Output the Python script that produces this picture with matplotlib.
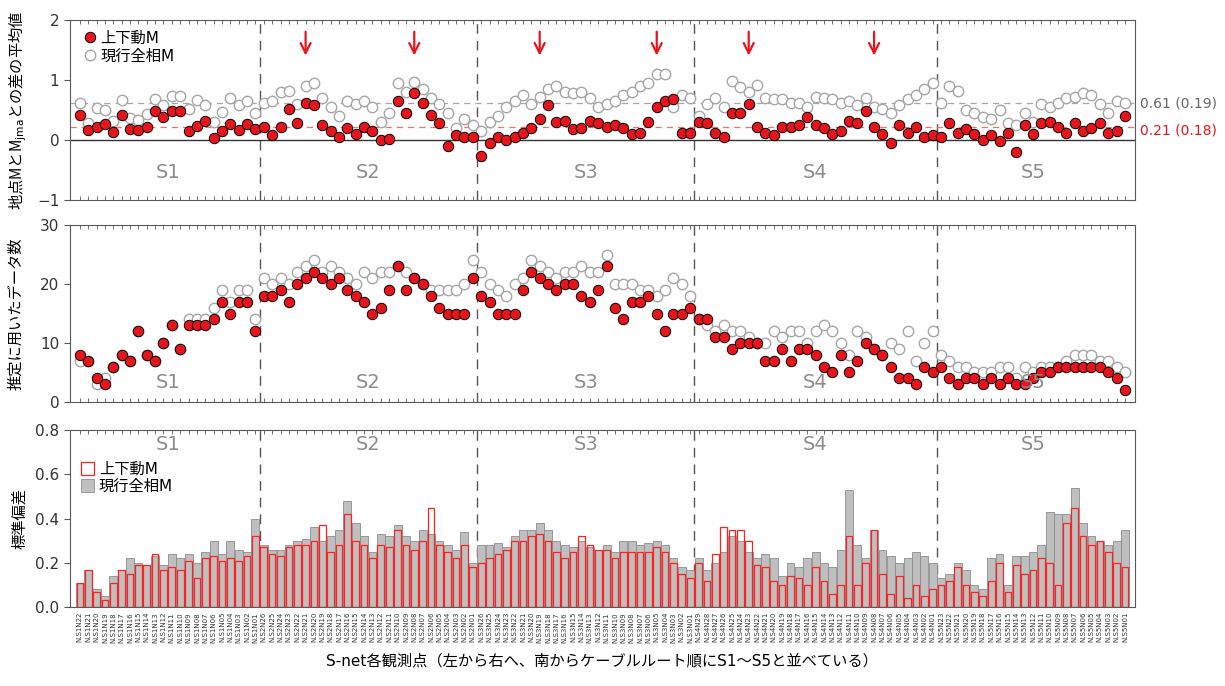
import matplotlib.pyplot as plt
import numpy as np

plt.rcParams['font.family'] = ['DejaVu Sans', 'Noto Sans CJK JP']

# station groups along the cable routes, south to north
segments = ['S1', 'S2', 'S3', 'S4', 'S5']
seg_sizes = [22, 26, 26, 29, 23]
stations = []
for seg, n in zip(segments, seg_sizes):
    stations += [f'N.{seg}N{i:02d}' for i in range(n, 0, -1)]

# mean of (station M - Mjma)
diff_vert = [0.42, 0.17, 0.21, 0.27, 0.14, 0.42, 0.18, 0.16, 0.22, 0.49, 0.39, 0.49, 0.48, 0.15, 0.23, 0.31, 0.03, 0.15, 0.26, 0.17, 0.26, 0.18,
             0.22, 0.08, 0.22, 0.51, 0.28, 0.62, 0.58, 0.25, 0.15, 0.05, 0.20, 0.10, 0.22, 0.15, 0.00, 0.02, 0.65, 0.45, 0.78, 0.62, 0.42, 0.28, -0.10, 0.08, 0.05, 0.05,
             -0.27, -0.05, 0.05, 0.00, 0.05, 0.12, 0.20, 0.35, 0.58, 0.30, 0.32, 0.18, 0.20, 0.32, 0.28, 0.22, 0.25, 0.20, 0.10, 0.12, 0.30, 0.55, 0.65, 0.68, 0.12, 0.12,
             0.30, 0.28, 0.12, 0.05, 0.45, 0.45, 0.60, 0.22, 0.12, 0.08, 0.22, 0.22, 0.25, 0.38, 0.25, 0.20, 0.10, 0.15, 0.32, 0.28, 0.48, 0.22, 0.10, -0.05, 0.25, 0.12, 0.22, 0.05, 0.08,
             0.05, 0.28, 0.12, 0.18, 0.10, 0.00, 0.08, -0.02, 0.12, -0.20, 0.25, 0.10, 0.28, 0.30, 0.22, 0.12, 0.28, 0.15, 0.20, 0.28, 0.12, 0.15, 0.40]
diff_all = [0.61, 0.29, 0.54, 0.50, 0.31, 0.66, 0.37, 0.34, 0.43, 0.69, 0.58, 0.74, 0.73, 0.51, 0.67, 0.58, 0.30, 0.46, 0.70, 0.58, 0.65, 0.45,
            0.62, 0.65, 0.80, 0.82, 0.60, 0.90, 0.95, 0.70, 0.55, 0.40, 0.65, 0.60, 0.65, 0.55, 0.30, 0.45, 0.95, 0.80, 0.97, 0.85, 0.70, 0.60, 0.45, 0.20, 0.35, 0.25,
            0.15, 0.30, 0.40, 0.55, 0.65, 0.75, 0.60, 0.72, 0.85, 0.90, 0.80, 0.78, 0.80, 0.70, 0.55, 0.60, 0.65, 0.75, 0.80, 0.90, 0.95, 1.10, 1.10, 0.55, 0.75, 0.70,
            0.40, 0.60, 0.70, 0.55, 0.98, 0.88, 0.80, 0.92, 0.70, 0.68, 0.68, 0.62, 0.62, 0.55, 0.72, 0.70, 0.68, 0.62, 0.65, 0.58, 0.70, 0.55, 0.52, 0.45, 0.58, 0.68, 0.75, 0.85, 0.95,
            0.62, 0.90, 0.82, 0.50, 0.45, 0.38, 0.35, 0.50, 0.28, 0.25, 0.45, 0.30, 0.60, 0.55, 0.62, 0.70, 0.72, 0.78, 0.75, 0.60, 0.45, 0.65, 0.62]
mean_all, sd_all = 0.61, 0.19
mean_vert, sd_vert = 0.21, 0.18
arrow_idx = [27, 40, 55, 69, 80, 95]

# number of events used
n_vert = [8, 7, 4, 3, 6, 8, 7, 12, 8, 7, 10, 13, 9, 13, 13, 13, 14, 17, 15, 17, 17, 12,
          18, 18, 19, 17, 20, 21, 22, 21, 20, 21, 19, 18, 17, 15, 16, 19, 23, 19, 21, 20, 18, 16, 15, 15, 15, 21,
          18, 17, 15, 15, 15, 19, 22, 21, 20, 19, 20, 20, 18, 17, 19, 23, 16, 14, 17, 17, 18, 15, 12, 15, 15, 16,
          14, 14, 11, 11, 9, 10, 10, 10, 7, 7, 9, 7, 9, 9, 8, 6, 5, 8, 5, 7, 10, 9, 8, 6, 4, 4, 3, 6, 5,
          6, 4, 3, 4, 4, 3, 4, 3, 4, 3, 3, 4, 5, 5, 6, 6, 6, 6, 6, 6, 5, 4, 2]
n_all = [7, 7, 3, 4, 6, 8, 7, 12, 8, 7, 10, 13, 9, 14, 14, 14, 16, 19, 17, 19, 19, 14,
         21, 20, 21, 20, 22, 23, 24, 22, 23, 22, 21, 20, 22, 21, 22, 22, 23, 22, 21, 20, 19, 19, 19, 19, 20, 24,
         22, 20, 19, 18, 20, 21, 24, 23, 22, 21, 22, 22, 23, 22, 22, 25, 20, 20, 20, 19, 19, 18, 19, 21, 20, 18,
         14, 13, 12, 13, 12, 12, 11, 10, 10, 12, 11, 12, 12, 10, 12, 13, 12, 10, 8, 12, 11, 9, 8, 10, 9, 12, 7, 10, 12,
         8, 7, 6, 6, 5, 5, 5, 6, 6, 4, 6, 5, 6, 6, 6, 7, 8, 8, 8, 7, 7, 6, 5]

# standard deviation
sd_vert_st = [0.11, 0.17, 0.07, 0.03, 0.11, 0.17, 0.15, 0.19, 0.19, 0.24, 0.17, 0.18, 0.17, 0.21, 0.13, 0.22, 0.23, 0.21, 0.22, 0.21, 0.23, 0.32,
              0.27, 0.24, 0.23, 0.27, 0.28, 0.28, 0.30, 0.37, 0.25, 0.28, 0.42, 0.30, 0.28, 0.22, 0.28, 0.27, 0.35, 0.28, 0.26, 0.30, 0.45, 0.28, 0.25, 0.22, 0.28, 0.18,
              0.20, 0.22, 0.24, 0.26, 0.30, 0.30, 0.32, 0.33, 0.30, 0.25, 0.22, 0.25, 0.32, 0.28, 0.26, 0.26, 0.22, 0.25, 0.25, 0.25, 0.25, 0.27, 0.25, 0.20, 0.15, 0.13,
              0.20, 0.12, 0.24, 0.36, 0.35, 0.35, 0.30, 0.19, 0.18, 0.12, 0.10, 0.14, 0.13, 0.10, 0.18, 0.12, 0.06, 0.10, 0.32, 0.10, 0.20, 0.35, 0.15, 0.06, 0.14, 0.04, 0.10, 0.05, 0.08,
              0.10, 0.12, 0.18, 0.10, 0.07, 0.05, 0.12, 0.20, 0.07, 0.19, 0.15, 0.17, 0.22, 0.20, 0.10, 0.38, 0.45, 0.32, 0.28, 0.30, 0.25, 0.20, 0.18]
sd_all_st = [0.11, 0.17, 0.08, 0.05, 0.14, 0.17, 0.22, 0.20, 0.19, 0.23, 0.19, 0.24, 0.22, 0.24, 0.20, 0.25, 0.30, 0.24, 0.30, 0.26, 0.25, 0.40,
             0.28, 0.26, 0.26, 0.28, 0.30, 0.31, 0.36, 0.30, 0.32, 0.35, 0.48, 0.38, 0.32, 0.25, 0.33, 0.32, 0.37, 0.32, 0.30, 0.35, 0.33, 0.30, 0.28, 0.26, 0.34, 0.20,
             0.28, 0.28, 0.29, 0.27, 0.32, 0.35, 0.35, 0.38, 0.35, 0.30, 0.28, 0.27, 0.30, 0.27, 0.26, 0.28, 0.25, 0.30, 0.30, 0.28, 0.29, 0.30, 0.28, 0.22, 0.18, 0.17,
             0.22, 0.17, 0.20, 0.25, 0.32, 0.30, 0.25, 0.22, 0.24, 0.22, 0.14, 0.20, 0.18, 0.22, 0.25, 0.20, 0.18, 0.26, 0.53, 0.28, 0.22, 0.35, 0.26, 0.23, 0.20, 0.22, 0.25, 0.23, 0.20,
             0.13, 0.15, 0.20, 0.17, 0.10, 0.08, 0.22, 0.24, 0.10, 0.23, 0.23, 0.25, 0.28, 0.43, 0.42, 0.42, 0.54, 0.38, 0.32, 0.30, 0.28, 0.30, 0.35]

RED = '#e8141b'
GREY = '#a6a6a6'
FRAME = '#595959'

x = np.arange(len(stations))
bounds = np.cumsum(seg_sizes)[:-1] - 0.5
centers = np.cumsum(seg_sizes) - np.array(seg_sizes) / 2 - 0.5

fig = plt.figure(figsize=(12.25, 6.86), dpi=100)
ax1 = fig.add_axes([0.057, 0.7085, 0.8695, 0.2625])
ax2 = fig.add_axes([0.057, 0.414, 0.8695, 0.258])
ax3 = fig.add_axes([0.057, 0.115, 0.8695, 0.258])

for ax in (ax1, ax2, ax3):
    ax.set_xlim(-1.2, len(stations) + 0.2)
    ax.set_xticks(x)
    ax.tick_params(axis='x', direction='in', length=3, top=True, color=FRAME, width=0.6)
    ax.tick_params(axis='y', direction='out', length=4, labelsize=11, color=FRAME, labelcolor='#333333')
    for s in ax.spines.values():
        s.set_color(FRAME)
        s.set_linewidth(0.8)
    for b in bounds:
        ax.axvline(b, color='#555555', ls=(0, (7, 5)), lw=1.0, zorder=1)
ax1.set_xticklabels([])
ax2.set_xticklabels([])

# top: mean difference
ax1.set_ylim(-1, 2)
ax1.set_yticks([-1, 0, 1, 2])
ax1.axhline(0, color='#333333', lw=1.0, zorder=1)
ax1.axhline(mean_all, color=GREY, ls=(0, (5, 4)), lw=0.9, zorder=1)
ax1.axhline(mean_vert, color='#f07070', ls=(0, (5, 4)), lw=0.9, zorder=1)
ax1.plot(x, diff_all, 'o', ms=7.5, mfc='white', mec=GREY, mew=1.0, zorder=2, label='現行全相M')
ax1.plot(x, diff_vert, 'o', ms=7.5, mfc=RED, mec='black', mew=0.7, zorder=3, label='上下動M')
ax1.text(len(stations) + 0.8, mean_all, f'{mean_all:.2f} ({sd_all:.2f})', color='#666666',
         fontsize=10, va='center', ha='left')
ax1.text(len(stations) + 0.8, mean_vert - 0.05, f'{mean_vert:.2f} ({sd_vert:.2f})', color=RED,
         fontsize=10, va='center', ha='left')
for i in arrow_idx:
    ax1.annotate('', xy=(i, 1.36), xytext=(i, 1.85),
                 arrowprops=dict(arrowstyle='->', color=RED, lw=1.6, mutation_scale=18))
for c, s in zip(centers, segments):
    ax1.text(c, -0.55, s, color='#8c8c8c', fontsize=14, ha='center', va='center')
h, l = ax1.get_legend_handles_labels()
ax1.legend(h[::-1], l[::-1], loc='upper left', frameon=False, fontsize=11,
           handletextpad=0.1, borderaxespad=0.3, labelspacing=0.2, handlelength=1.2)
ax1.set_ylabel('地点MとM$_{\\rm jma}$との差の平均値', fontsize=11, labelpad=6,
               family='Noto Sans CJK JP')

# middle: number of data
ax2.set_ylim(0, 30)
ax2.set_yticks([0, 10, 20, 30])
ax2.plot(x, n_all, 'o', ms=7.5, mfc='white', mec=GREY, mew=1.0, zorder=2)
ax2.plot(x, n_vert, 'o', ms=7.5, mfc=RED, mec='black', mew=0.7, zorder=3)
for c, s in zip(centers, segments):
    ax2.text(c, 3.3, s, color='#8c8c8c', fontsize=14, ha='center', va='center')
ax2.set_ylabel('推定に用いたデータ数', fontsize=11, labelpad=12)

# bottom: standard deviation
ax3.set_ylim(0, 0.8)
ax3.set_yticks([0, 0.2, 0.4, 0.6, 0.8])
ax3.set_yticklabels(['0.0', '0.2', '0.4', '0.6', '0.8'])
ax3.bar(x, sd_all_st, width=0.95, color='#bfbfbf', edgecolor='#8c8c8c', lw=0.6, zorder=2, label='現行全相M')
ax3.bar(x, sd_vert_st, width=0.8, color='none', edgecolor='#ff2020', lw=0.9, zorder=3, label='上下動M')
for c, s in zip(centers, segments):
    ax3.text(c, 0.735, s, color='#8c8c8c', fontsize=14, ha='center', va='center')
h, l = ax3.get_legend_handles_labels()
ax3.legend(h[::-1], l[::-1], loc='upper left', bbox_to_anchor=(0.0, 0.88), frameon=False, fontsize=11,
           handletextpad=0.3, borderaxespad=0.3, labelspacing=0.1, handlelength=0.9, handleheight=0.9)
ax3.set_ylabel('標準偏差', fontsize=11, labelpad=6)
ax3.set_xticklabels(stations, rotation=90, fontsize=5, color='#333333')
ax3.set_xlabel('S-net各観測点（左から右へ、南からケーブルルート順にS1～S5と並べている）',
               fontsize=11, labelpad=8)

fig.savefig('out.png', dpi=100)
